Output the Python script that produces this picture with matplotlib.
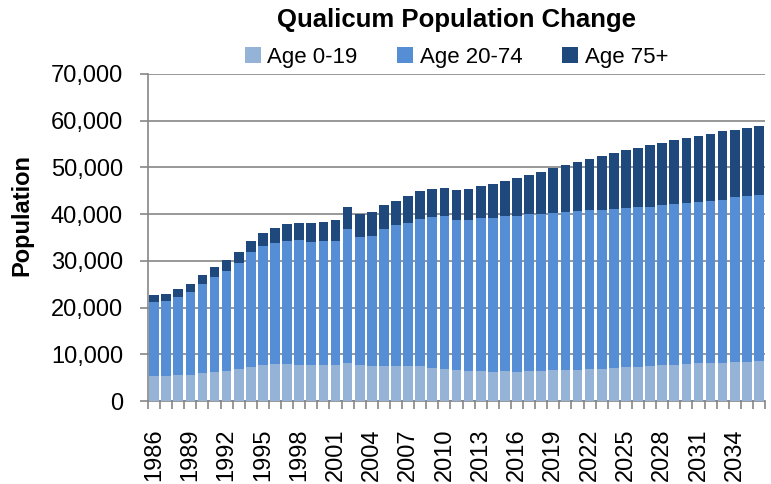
import numpy as np
import matplotlib
matplotlib.use('Agg')
import matplotlib.pyplot as plt
from matplotlib.ticker import FuncFormatter, MultipleLocator

plt.rcParams['font.family'] = ['Liberation Sans', 'DejaVu Sans']

# Population by age group (thousands)
years = list(range(1986, 2037))
age_0_19 = [5.4, 5.4, 5.6, 5.6, 6.0, 6.2, 6.5, 6.9, 7.3, 7.7,
            7.9, 7.9, 7.7, 7.7, 7.7, 7.7, 8.1, 7.6, 7.4, 7.4,
            7.5, 7.4, 7.4, 7.1, 6.9, 6.6, 6.4, 6.4, 6.3, 6.4,
            6.3, 6.4, 6.4, 6.6, 6.7, 6.6, 6.9, 6.9, 7.1, 7.3,
            7.3, 7.5, 7.7, 7.8, 8.0, 8.1, 8.1, 8.2, 8.4, 8.4, 8.6]
age_20_74 = [15.7, 16.1, 16.7, 17.7, 19.1, 20.3, 21.4, 22.7, 24.5, 25.5,
             26.0, 26.4, 26.8, 26.4, 26.6, 26.6, 28.8, 27.6, 27.9, 29.4,
             30.1, 30.7, 31.6, 32.2, 32.6, 32.2, 32.4, 32.8, 32.9, 33.1,
             33.4, 33.6, 33.7, 33.7, 33.8, 34.1, 34.0, 34.0, 34.0, 34.1,
             34.3, 34.1, 34.2, 34.3, 34.4, 34.5, 34.8, 34.9, 35.2, 35.4, 35.5]
age_75_plus = [1.5, 1.5, 1.6, 1.8, 1.9, 2.1, 2.2, 2.4, 2.5, 2.8,
               3.2, 3.6, 3.6, 4.0, 4.1, 4.4, 4.7, 4.8, 5.1, 5.2,
               5.3, 5.7, 5.9, 6.1, 6.1, 6.4, 6.6, 6.8, 7.3, 7.6,
               8.0, 8.4, 8.9, 9.6, 10.0, 10.4, 11.0, 11.6, 12.0, 12.3,
               12.6, 13.2, 13.4, 13.8, 14.0, 14.2, 14.3, 14.7, 14.5, 14.7, 14.8]

labels = ['Age 0-19', 'Age 20-74', 'Age 75+']
colors = ['#95B3D7', '#558ED5', '#1F497D']

young = np.array(age_0_19) * 1000
adult = np.array(age_20_74) * 1000
old = np.array(age_75_plus) * 1000
x = np.arange(len(years))

fig = plt.figure(figsize=(7.71, 4.84), dpi=100)
ax = fig.add_axes([148 / 771, 1 - 401 / 484, 617 / 771, 327 / 484])

w = 0.8
ax.bar(x, young, w, color=colors[0], label=labels[0], zorder=3)
ax.bar(x, adult, w, bottom=young, color=colors[1], label=labels[1], zorder=3)
ax.bar(x, old, w, bottom=young + adult, color=colors[2], label=labels[2], zorder=3)

ax.set_xlim(-0.5, len(years) - 0.5)
ax.set_ylim(0, 70000)
ax.yaxis.set_major_locator(MultipleLocator(10000))
ax.yaxis.set_major_formatter(FuncFormatter(lambda v, p: f'{int(v):,}'))
ax.grid(axis='y', color='#868686', lw=1.2, zorder=0)

ax.set_xticks(x[::3])
ax.set_xticklabels([str(y) for y in years[::3]], rotation=90)
ax.set_xticks(np.arange(-0.5, len(years), 1), minor=True)
ax.tick_params(axis='x', which='major', length=0, pad=20, labelsize=17)
ax.tick_params(axis='x', which='minor', length=6, color='#868686', width=1.2)
ax.tick_params(axis='y', length=6, color='#868686', width=1.2, pad=12, labelsize=17)

for side in ['top', 'right']:
    ax.spines[side].set_visible(False)
for side in ['left', 'bottom']:
    ax.spines[side].set_color('#868686')
    ax.spines[side].set_linewidth(1.2)

fig.text(22 / 771, 1 - 215 / 484, 'Population', rotation=90,
         ha='center', va='center', fontsize=17, fontweight='bold')
fig.text(0.5925, 1 - 20 / 484, 'Qualicum Population Change',
         ha='center', va='center', fontsize=18.5, fontweight='bold')
ax.legend(loc='lower center', bbox_to_anchor=(0.5, 0.985), ncol=3, frameon=False,
          fontsize=16, handlelength=0.7, handleheight=0.7, handletextpad=0.3,
          columnspacing=1.8, borderpad=0)

fig.savefig('out.png', dpi=100)
